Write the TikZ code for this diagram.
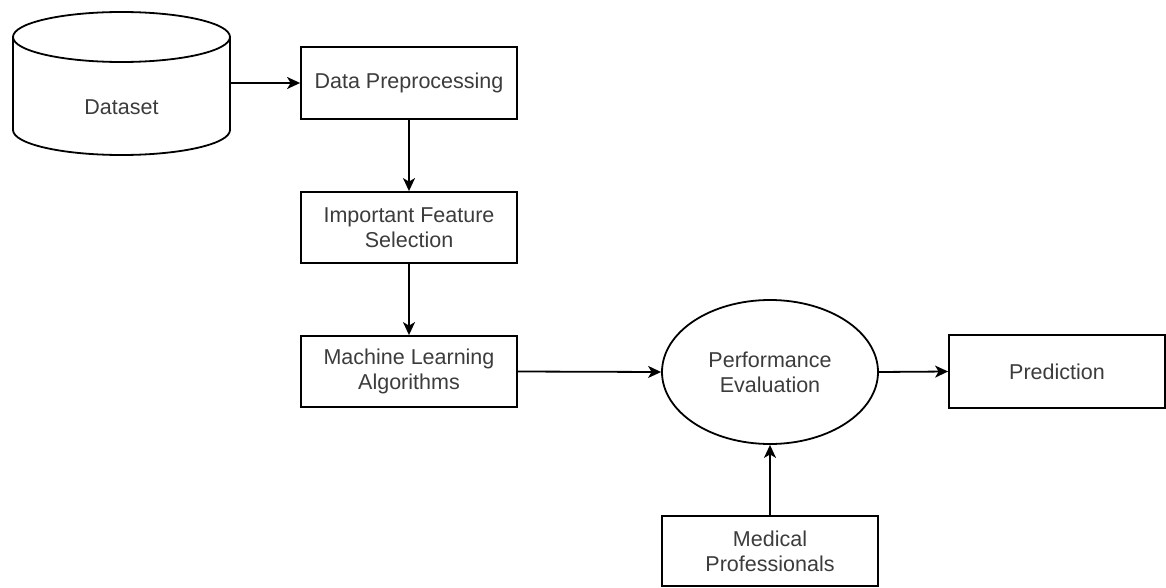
\documentclass[tikz,border=0pt]{standalone}
\usepackage{fontspec}
\setmainfont{Liberation Sans}
\usetikzlibrary{shapes.geometric,arrows.meta}
\definecolor{txt}{RGB}{60,60,60}
\begin{document}
\begin{tikzpicture}[x=1pt,y=-1pt,
  every node/.style={font=\fontsize{21.5}{25}\selectfont, text=txt, align=center, inner sep=0pt},
  stepbox/.style={draw=black, line width=1.8pt, rectangle, minimum width=216pt, minimum height=71pt},
  oval/.style={draw=black, line width=1.8pt, ellipse, minimum width=216pt, minimum height=144pt},
  flow/.style={line width=1.8pt, -{Stealth[length=13pt,width=12pt,inset=3.5pt]}}]
\useasboundingbox[fill=white] (0,0) rectangle (1166,588);

% database cylinder
\draw[line width=1.8pt] (13,37) -- (13,130) arc[start angle=180,end angle=360,x radius=108.5pt,y radius=25pt] -- (230,37);
\draw[line width=1.8pt] (121.5,37) ellipse[x radius=108.5pt,y radius=25pt];
\node (ds) at (121.5,107) {Dataset};
\coordinate (dsout) at (230,83);

% process steps
\node[stepbox, minimum height=72pt] (dp) at (409,83) {Data Preprocessing};
\node[stepbox] (ifs) at (409,227.5) {Important Feature\\Selection};
\node[stepbox] (ml) at (409,371.5) {Machine Learning\\Algorithms};
\node[oval] (pe) at (770,372) {Performance\\Evaluation};
\node[stepbox, minimum height=73pt] (pr) at (1057,371.5) {Prediction};
\node[stepbox, minimum height=70pt] (mp) at (770,551) {Medical\\Professionals};

% connectors
\draw[flow] (dsout) -- (dp.west);
\draw[flow] (dp) -- (ifs);
\draw[flow] (ifs) -- (ml);
\draw[flow] (ml.east) -- (pe.west);
\draw[flow] (pe.east) -- (pr.west);
\draw[flow] (mp) -- (pe);
\end{tikzpicture}
\end{document}
